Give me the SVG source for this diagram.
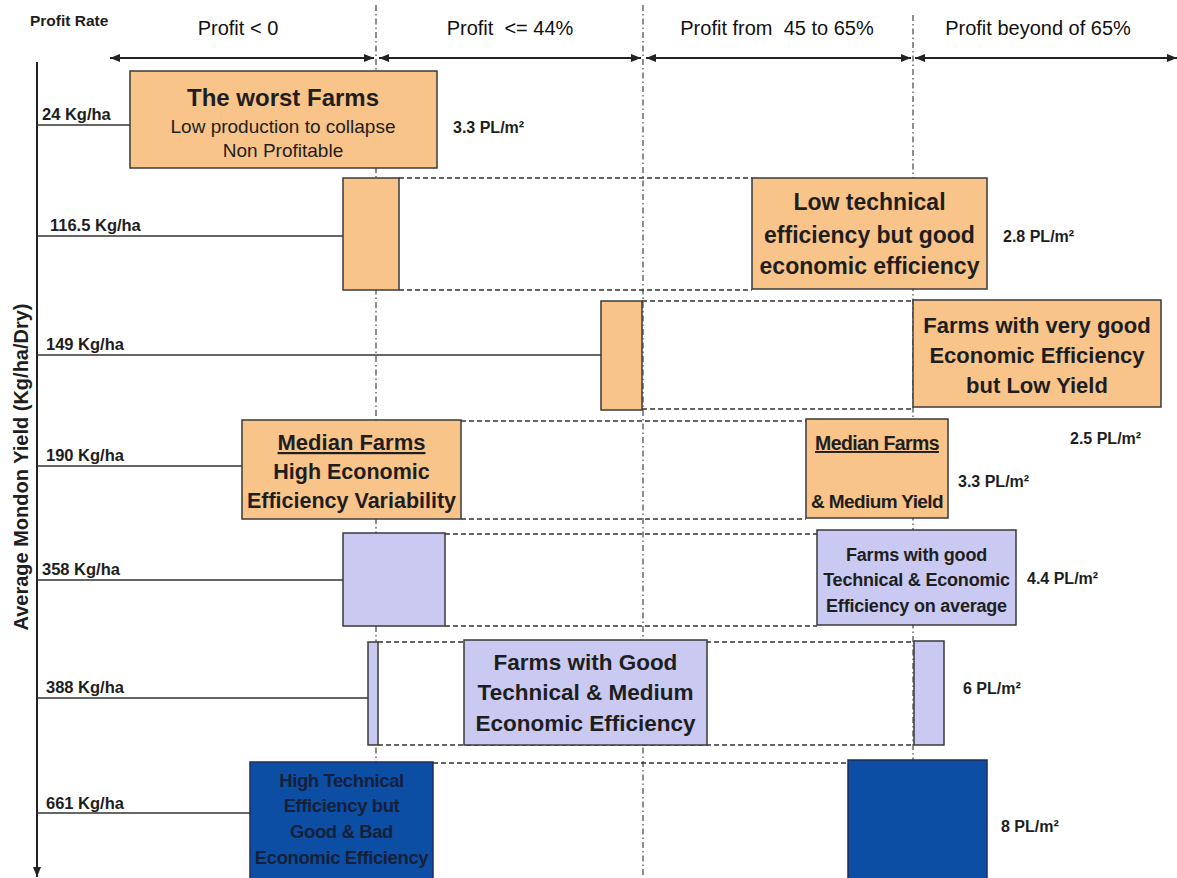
<svg xmlns="http://www.w3.org/2000/svg" width="1177" height="878" viewBox="0 0 1177 878">
<style>
text{font-family:"Liberation Sans",Arial,sans-serif;fill:#1e1e1e}
.hdr{font-size:20px;white-space:pre;fill:#111}
.b{font-weight:bold}
.lab{font-size:16.5px;font-weight:bold}
.pl{font-size:16px;font-weight:bold}
.c{text-anchor:middle}
.or{fill:#F9C48A;stroke:#3a3a3a;stroke-width:1.5}
.lv{fill:#C9C9F1;stroke:#3a3a3a;stroke-width:1.5}
.db{fill:#0C4EA3;stroke:#1c2f5a;stroke-width:1.5}
.hl{stroke:#333;stroke-width:1.5;fill:none}
.da{stroke:#333;stroke-width:1.5;stroke-dasharray:5 3;fill:none}
.dv{stroke:#444;stroke-width:1.2;stroke-dasharray:6 3 1.5 3;fill:none}
.ar{stroke:#222;stroke-width:2;fill:none}
.dk{fill:#15203a}
</style>
<defs>
<marker id="ah" viewBox="0 0 10 8" refX="10" refY="4" markerWidth="10" markerHeight="8" markerUnits="userSpaceOnUse" orient="auto-start-reverse">
<path d="M0,0 L10,4 L0,8 z" fill="#222"/>
</marker>
</defs>

<g id="dividers">
<line class="dv" x1="376" y1="5" x2="376" y2="878"/>
<line class="dv" x1="643" y1="5" x2="643" y2="878"/>
<line class="dv" x1="913" y1="15" x2="913" y2="878"/>
</g>

<g id="header">
<text x="30" y="26" class="b" style="font-size:15.5px">Profit Rate</text>
<text x="238" y="35" class="hdr c">Profit &lt; 0</text>
<text x="510" y="35" class="hdr c">Profit  &lt;= 44%</text>
<text x="777" y="35" class="hdr c">Profit from  45 to 65%</text>
<text x="1038" y="35" class="hdr c">Profit beyond of 65%</text>
</g>

<g id="connectors">
<line class="ar" x1="110" y1="58" x2="374" y2="58" marker-start="url(#ah)" marker-end="url(#ah)"/>
<line class="ar" x1="379" y1="58" x2="641" y2="58" marker-start="url(#ah)" marker-end="url(#ah)"/>
<line class="ar" x1="646" y1="58" x2="911" y2="58" marker-start="url(#ah)" marker-end="url(#ah)"/>
<line class="ar" x1="915" y1="58" x2="1177" y2="58" marker-start="url(#ah)" marker-end="url(#ah)"/>
<line class="ar" x1="37" y1="62" x2="37" y2="877" marker-end="url(#ah)"/>
<line class="hl" x1="37" y1="125" x2="130" y2="125"/>
<line class="hl" x1="37" y1="236" x2="343" y2="236"/>
<line class="hl" x1="37" y1="355" x2="601" y2="355"/>
<line class="hl" x1="37" y1="466" x2="242" y2="466"/>
<line class="hl" x1="37" y1="580" x2="343" y2="580"/>
<line class="hl" x1="37" y1="698" x2="368" y2="698"/>
<line class="hl" x1="37" y1="813" x2="250" y2="813"/>
<line class="da" x1="399" y1="178" x2="752" y2="178"/>
<line class="da" x1="399" y1="290" x2="752" y2="290"/>
<line class="da" x1="642" y1="301" x2="913" y2="301"/>
<line class="da" x1="642" y1="409" x2="913" y2="409"/>
<line class="da" x1="461" y1="421" x2="806" y2="421"/>
<line class="da" x1="461" y1="519" x2="806" y2="519"/>
<line class="da" x1="445" y1="534" x2="817" y2="534"/>
<line class="da" x1="445" y1="626" x2="817" y2="626"/>
<line class="da" x1="378" y1="642" x2="914" y2="642"/>
<line class="da" x1="378" y1="745" x2="914" y2="745"/>
<line class="da" x1="433" y1="763" x2="848" y2="763"/>
</g>

<g id="axis-label">
<text transform="translate(28,467) rotate(-90)" class="b c" style="font-size:20px">Average Mondon Yield (Kg/ha/Dry)</text>
</g>

<g id="yield-labels">
<text x="42" y="120" class="lab">24 Kg/ha</text>
<text x="50" y="231" class="lab">116.5 Kg/ha</text>
<text x="46" y="350" class="lab">149 Kg/ha</text>
<text x="46" y="461" class="lab">190 Kg/ha</text>
<text x="42" y="575" class="lab">358 Kg/ha</text>
<text x="46" y="693" class="lab">388 Kg/ha</text>
<text x="46" y="809" class="lab">661 Kg/ha</text>
</g>

<g id="density-labels">
<text x="453" y="133" class="pl">3.3 PL/m²</text>
<text x="1003" y="242" class="pl">2.8 PL/m²</text>
<text x="1070" y="444" class="pl">2.5 PL/m²</text>
<text x="958" y="487" class="pl">3.3 PL/m²</text>
<text x="1027" y="584" class="pl">4.4 PL/m²</text>
<text x="963" y="694" class="pl">6 PL/m²</text>
<text x="1001" y="832" class="pl">8 PL/m²</text>
</g>

<g id="node-worst">
<rect class="or" x="130" y="71" width="307" height="97"/>
<text x="283" y="106" class="b c" style="font-size:24px">The worst Farms</text>
<text x="283" y="133" class="c" style="font-size:19px">Low production to collapse</text>
<text x="283" y="157" class="c" style="font-size:19px">Non Profitable</text>
</g>

<g id="node-116">
<rect class="or" x="343" y="178" width="56" height="112"/>
</g>

<g id="node-lowtech">
<rect class="or" x="752" y="178" width="235" height="111"/>
<text x="869.5" y="210" class="b c" style="font-size:23px">Low technical</text>
<text x="869.5" y="243" class="b c" style="font-size:23px">efficiency but good</text>
<text x="869.5" y="274" class="b c" style="font-size:23px">economic efficiency</text>
</g>

<g id="node-149">
<rect class="or" x="601" y="301" width="41" height="109"/>
</g>

<g id="node-verygood">
<rect class="or" x="913" y="300" width="248" height="107"/>
<text x="1037" y="333" class="b c" style="font-size:22px">Farms with very good</text>
<text x="1037" y="363" class="b c" style="font-size:22px">Economic Efficiency</text>
<text x="1037" y="393" class="b c" style="font-size:22px">but Low Yield</text>
</g>

<g id="node-median">
<rect class="or" x="242" y="420" width="219" height="99"/>
<text x="351.5" y="450" class="b c" style="font-size:22px;text-decoration:underline">Median Farms</text>
<text x="351.5" y="479" class="b c" style="font-size:21.5px">High Economic</text>
<text x="351.5" y="508" class="b c" style="font-size:21.5px">Efficiency Variability</text>
</g>

<g id="node-median2">
<rect class="or" x="806" y="419" width="142" height="99"/>
<text x="877" y="450" class="b c" style="font-size:19.5px;letter-spacing:-0.6px;text-decoration:underline">Median Farms</text>
<text x="877" y="508" class="b c" style="font-size:19px;letter-spacing:-0.6px">&amp; Medium Yield</text>
</g>

<g id="node-358">
<rect class="lv" x="343" y="533" width="102" height="93"/>
</g>

<g id="node-goodte">
<rect class="lv" x="817" y="530" width="199" height="95"/>
<text x="916.5" y="561" class="b c" style="font-size:18px;letter-spacing:-0.2px">Farms with good</text>
<text x="916.5" y="586" class="b c" style="font-size:18px;letter-spacing:-0.2px">Technical &amp; Economic</text>
<text x="916.5" y="612" class="b c" style="font-size:18px;letter-spacing:-0.2px">Efficiency on average</text>
</g>

<g id="node-388">
<rect class="lv" x="368" y="642" width="10" height="103"/>
</g>

<g id="node-goodtm">
<rect class="lv" x="464" y="640" width="243" height="105"/>
<text x="585.5" y="670" class="b c" style="font-size:22.5px">Farms with Good</text>
<text x="585.5" y="700" class="b c" style="font-size:22.5px">Technical &amp; Medium</text>
<text x="585.5" y="731" class="b c" style="font-size:22.5px">Economic Efficiency</text>
</g>

<g id="node-6pl">
<rect class="lv" x="914" y="641" width="30" height="104"/>
</g>

<g id="node-hightech">
<rect class="db" x="250" y="762" width="183" height="122"/>
<text x="341.5" y="787" class="b c dk" style="font-size:18.5px;letter-spacing:-0.4px">High Technical</text>
<text x="341.5" y="812" class="b c dk" style="font-size:18.5px;letter-spacing:-0.4px">Efficiency but</text>
<text x="341.5" y="838" class="b c dk" style="font-size:18.5px;letter-spacing:-0.4px">Good &amp; Bad</text>
<text x="341.5" y="864" class="b c dk" style="font-size:18.5px;letter-spacing:-0.4px">Economic Efficiency</text>
</g>

<g id="node-8pl">
<rect class="db" x="848" y="760" width="139" height="124"/>
</g>
</svg>
